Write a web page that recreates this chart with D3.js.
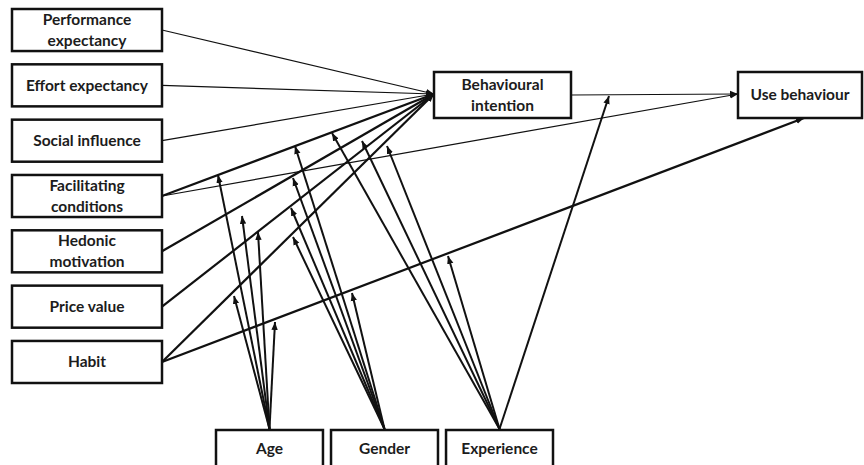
<!DOCTYPE html>
<html>
<head>
<meta charset="utf-8">
<script src="https://d3js.org/d3.v7.min.js"></script>
<style>
  body { margin: 0; background: #fff; }
  svg { display: block; }
  .box { fill: #fff; stroke: #111; stroke-width: 2.5; }
  .label { font-family: Lato, "Open Sans", sans-serif; font-weight: bold; font-size: 15.5px; fill: #1c1c1c; text-anchor: middle; }
</style>
</head>
<body>
<div id="chart"></div>
<script>
// constructs on the left (text split on "\n")
const predictors = ["Performance\nexpectancy", "Effort expectancy", "Social influence",
  "Facilitating\nconditions", "Hedonic\nmotivation", "Price value", "Habit"];
const outcomes = ["Behavioural\nintention", "Use behaviour"];
const moderators = ["Age", "Gender", "Experience"];

// direct paths: from, to, heavy line?
const paths = [
  ["Performance\nexpectancy", "Behavioural\nintention", false],
  ["Effort expectancy", "Behavioural\nintention", false],
  ["Social influence", "Behavioural\nintention", false],
  ["Facilitating\nconditions", "Behavioural\nintention", true],
  ["Facilitating\nconditions", "Use behaviour", false],
  ["Hedonic\nmotivation", "Behavioural\nintention", true],
  ["Price value", "Behavioural\nintention", true],
  ["Habit", "Behavioural\nintention", true],
  ["Habit", "Use behaviour", true],
  ["Behavioural\nintention", "Use behaviour", false]
];

// moderator arrows: moderator and the point (diagram units) where its arrowhead lands
const moderations = [
  ["Age", 218, 175], ["Age", 242, 216], ["Age", 258, 232], ["Age", 234, 296], ["Age", 275, 322],
  ["Gender", 295, 146], ["Gender", 293, 178], ["Gender", 291, 208], ["Gender", 293, 237], ["Gender", 352, 293],
  ["Experience", 332, 133], ["Experience", 362, 141], ["Experience", 387, 146], ["Experience", 448, 256], ["Experience", 609, 96]
];

const width = 864, height = 465;
const x = d3.scaleLinear().domain([0, 864]).range([0, width]);
const y = d3.scaleLinear().domain([0, 465]).range([0, height]);

const rowY = d3.scaleBand().domain(predictors).range([y(9), y(383)]).paddingInner(0.24);
const colX = d3.scaleBand().domain(moderators).range([x(216), x(553)]).paddingInner(0.07);
const leftX = x(12), leftW = x(162) - x(12);

const outBox = {
  "Behavioural\nintention": { x0: x(434), x1: x(571), y0: y(72), y1: y(118) },
  "Use behaviour": { x0: x(738), x1: x(862), y0: y(72), y1: y(118) }
};

const svg = d3.select("#chart").append("svg").attr("width", width).attr("height", height);

const defs = svg.append("defs");
defs.append("marker").attr("id", "arr")
  .attr("viewBox", "0 -5 10 10").attr("refX", 10).attr("refY", 0)
  .attr("markerUnits", "userSpaceOnUse").attr("markerWidth", 8).attr("markerHeight", 8)
  .attr("orient", "auto")
  .append("path").attr("d", "M0,-4L10,0L0,4Z").attr("fill", "#111");

function anchorOut(name) {
  if (outBox[name]) { const b = outBox[name]; return [b.x1, (b.y0 + b.y1) / 2]; }
  return [leftX + leftW, rowY(name) + rowY.bandwidth() / 2];
}
function anchorIn(from, to) {
  const b = outBox[to];
  if (to === "Use behaviour" && from === "Habit") return [x(804), b.y1];
  return [b.x0, (b.y0 + b.y1) / 2 - 1];
}

// direct paths
svg.append("g").selectAll("line").data(paths).join("line")
  .attr("x1", d => anchorOut(d[0])[0]).attr("y1", d => anchorOut(d[0])[1])
  .attr("x2", d => anchorIn(d[0], d[1])[0]).attr("y2", d => anchorIn(d[0], d[1])[1])
  .attr("stroke", "#111").attr("stroke-width", d => d[2] ? 2.2 : 1.2)
  .attr("marker-end", "url(#arr)");

// moderator arrows
svg.append("g").selectAll("line").data(moderations).join("line")
  .attr("x1", d => colX(d[0]) + colX.bandwidth() / 2).attr("y1", y(429))
  .attr("x2", d => x(d[1])).attr("y2", d => y(d[2]))
  .attr("stroke", "#111").attr("stroke-width", 2)
  .attr("marker-end", "url(#arr)");

function drawLabel(g, text, cx, cy) {
  const lines = text.split("\n");
  const lh = 21;
  lines.forEach((t, i) => {
    g.append("text").attr("class", "label")
      .attr("x", cx).attr("y", cy + (i - (lines.length - 1) / 2) * lh)
      .attr("dy", "0.35em").text(t);
  });
}

// left boxes
predictors.forEach(p => {
  const g = svg.append("g");
  g.append("rect").attr("class", "box")
    .attr("x", leftX).attr("y", rowY(p)).attr("width", leftW).attr("height", rowY.bandwidth());
  drawLabel(g, p, leftX + leftW / 2, rowY(p) + rowY.bandwidth() / 2);
});

// outcome boxes
outcomes.forEach(o => {
  const b = outBox[o];
  const g = svg.append("g");
  g.append("rect").attr("class", "box")
    .attr("x", b.x0).attr("y", b.y0).attr("width", b.x1 - b.x0).attr("height", b.y1 - b.y0);
  drawLabel(g, o, (b.x0 + b.x1) / 2, (b.y0 + b.y1) / 2);
});

// moderator boxes (cut by the bottom edge)
moderators.forEach(m => {
  const g = svg.append("g");
  g.append("rect").attr("class", "box")
    .attr("x", colX(m)).attr("y", y(430)).attr("width", colX.bandwidth()).attr("height", 50);
  drawLabel(g, m, colX(m) + colX.bandwidth() / 2, y(449));
});
</script>
</body>
</html>
